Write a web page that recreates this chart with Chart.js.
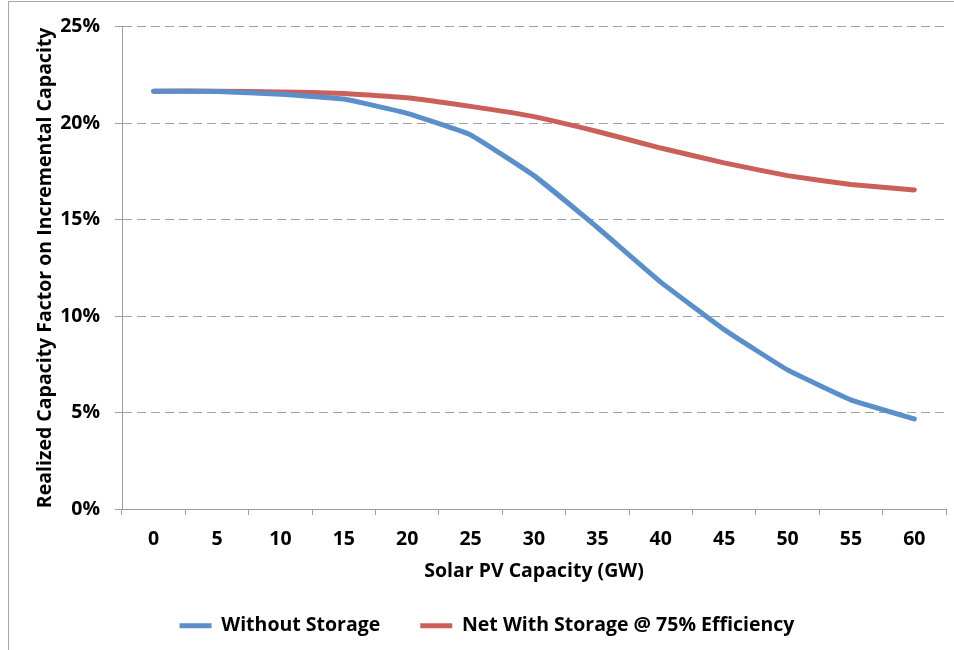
<!DOCTYPE html>
<html>
<head>
<meta charset="utf-8">
<script src="https://cdn.jsdelivr.net/npm/chart.js@4/dist/chart.umd.min.js"></script>
<style>
  html, body { margin: 0; padding: 0; background: #fff; }
  #wrap { position: relative; width: 954px; height: 650px; }
</style>
</head>
<body>
<div id="wrap"><canvas id="cf-chart" width="954" height="650"></canvas></div>
<script>
const capacityLabels = ["0", "5", "10", "15", "20", "25", "30", "35", "40", "45", "50", "55", "60"];
const withoutStorage = [21.66, 21.64, 21.5, 21.25, 20.51, 19.39, 17.28, 14.59, 11.76, 9.3, 7.21, 5.66, 4.67];
const withStorage = [21.66, 21.66, 21.62, 21.54, 21.32, 20.87, 20.34, 19.57, 18.71, 17.94, 17.28, 16.82, 16.54];
const yTicks = [0, 5, 10, 15, 20, 25];

const boldFont = { family: "'Open Sans', 'Liberation Sans', sans-serif", size: 19.5, weight: "bold" };

// thin grey frame like the Excel chart area edge, legend nudged right a bit
const framePlugin = {
    id: "frame",
    afterLayout(chart) {
        if (chart.legend) {
            chart.legend.left += 14;
            chart.legend.right += 14;
        }
    },
    beforeDraw(chart) {
        const ctx = chart.ctx;
        ctx.save();
        ctx.strokeStyle = "#a6a6a6";
        ctx.lineWidth = 1;
        ctx.beginPath();
        ctx.moveTo(8.5, chart.height);
        ctx.lineTo(8.5, 1.5);
        ctx.lineTo(chart.width, 1.5);
        ctx.stroke();
        ctx.restore();
    }
};

new Chart(document.getElementById("cf-chart"), {
    type: "line",
    data: {
        labels: capacityLabels,
        datasets: [
            {
                label: "Without Storage",
                data: withoutStorage,
                borderColor: "#5b8fc9",
                backgroundColor: "#5b8fc9",
                borderWidth: 5,
                pointRadius: 0,
                tension: 0.1,
                borderCapStyle: "round",
                borderJoinStyle: "round"
            },
            {
                label: "Net With Storage @ 75% Efficiency",
                data: withStorage,
                borderColor: "#cb5f5a",
                backgroundColor: "#cb5f5a",
                borderWidth: 5,
                pointRadius: 0,
                tension: 0.1,
                borderCapStyle: "round",
                borderJoinStyle: "round"
            }
        ]
    },
    options: {
        responsive: false,
        animation: false,
        layout: { padding: { top: 23, right: 8, left: 0, bottom: 4.5 } },
        plugins: {
            tooltip: { enabled: false },
            legend: {
                position: "bottom",
                labels: {
                    font: boldFont,
                    color: "#000",
                    usePointStyle: true,
                    pointStyle: "line",
                    pointStyleWidth: 32,
                    padding: 40
                }
            }
        },
        scales: {
            x: {
                offset: true,
                grid: {
                    offset: true,
                    drawOnChartArea: false,
                    tickLength: 6,
                    color: "#9d9d9d"
                },
                border: { color: "#9d9d9d", width: 1 },
                ticks: { font: boldFont, color: "#000", padding: 13, maxRotation: 0 },
                title: {
                    display: true,
                    text: "Solar PV Capacity (GW)",
                    font: boldFont,
                    color: "#000",
                    padding: { top: 0, bottom: -7 }
                },
                afterFit(scale) { scale.height = 67; }
            },
            y: {
                min: 0,
                max: 25,
                afterBuildTicks(scale) { scale.ticks = yTicks.map(v => ({ value: v })); },
                grid: {
                    color: "#9f9f9f",
                    tickLength: 7,
                    tickColor: "#9d9d9d",
                    tickBorderDash: []
                },
                border: { color: "#9d9d9d", width: 1, dash: [9, 5] },
                ticks: {
                    font: boldFont,
                    color: "#000",
                    padding: 15,
                    callback: v => v + "%"
                },
                title: {
                    display: true,
                    text: "Realized Capacity Factor on Incremental Capacity",
                    font: boldFont,
                    color: "#000",
                    padding: { top: 34, bottom: 0 }
                },
                afterFit(scale) { scale.width = 122; }
            }
        }
    },
    plugins: [framePlugin]
});
</script>
</body>
</html>
